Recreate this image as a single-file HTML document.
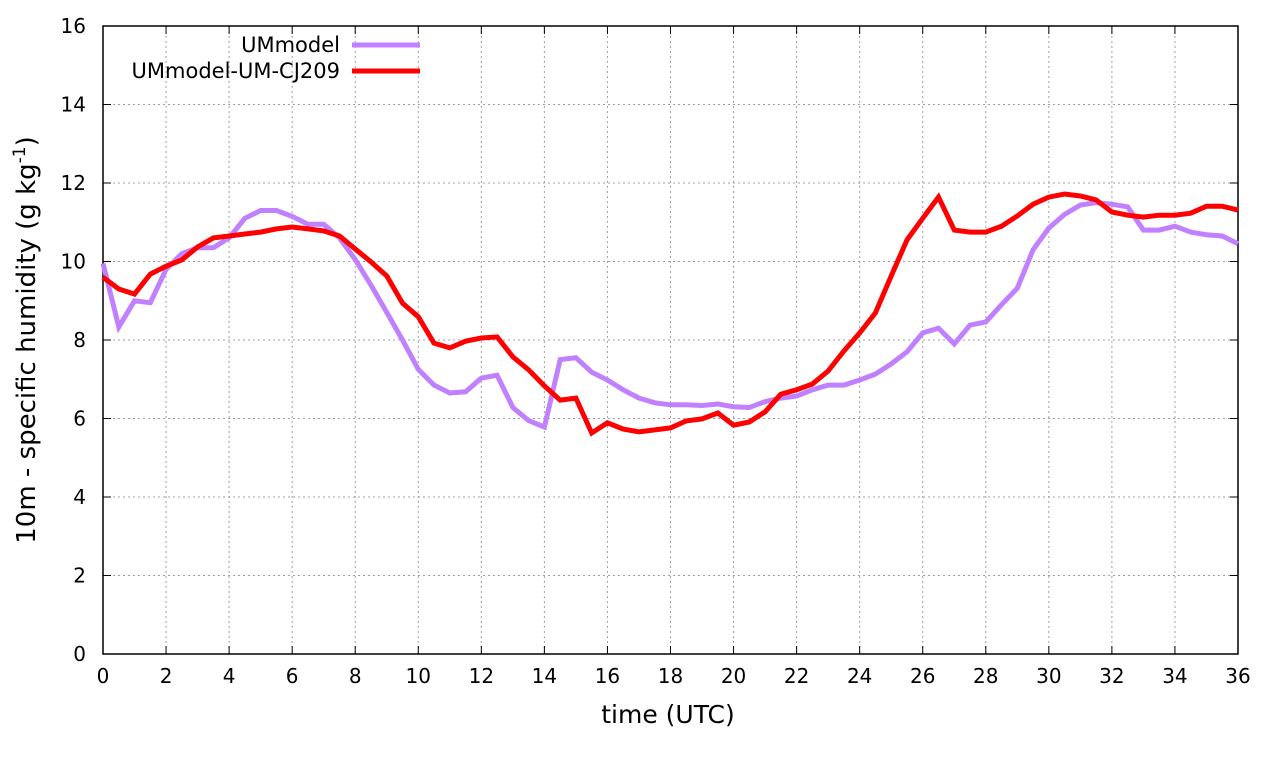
<!DOCTYPE html>
<html><head><meta charset="utf-8"><style>
html,body{margin:0;padding:0;background:#fff}
svg{display:block;font-family:"DejaVu Sans","Liberation Sans",sans-serif}
</style></head><body>
<svg id="chart" width="1280" height="760" xmlns="http://www.w3.org/2000/svg">
<g id="grid"></g>
<g id="axes"></g>
<g id="series"></g>
<text x="668" y="723" font-size="25" text-anchor="middle">time (UTC)</text>
<text transform="translate(35,340) rotate(-90)" font-size="26" text-anchor="middle">10m - specific humidity (g kg<tspan dy="-10" font-size="17">-1</tspan><tspan dy="10">)</tspan></text>
<g>
<text x="340" y="52" font-size="21" text-anchor="end">UMmodel</text>
<line x1="352" y1="45" x2="420" y2="45" stroke="#c080ff" stroke-width="5"/>
<text x="340" y="78" font-size="21" text-anchor="end">UMmodel-UM-CJ209</text>
<line x1="352" y1="71" x2="420" y2="71" stroke="#ff0000" stroke-width="5"/>
</g>
</svg>
<script>
const xTicks=[0,2,4,6,8,10,12,14,16,18,20,22,24,26,28,30,32,34,36];
const yTicks=[0,2,4,6,8,10,12,14,16];
const umModel=[9.95,8.33,9.0,8.95,9.8,10.2,10.35,10.35,10.6,11.1,11.3,11.3,11.15,10.95,10.95,10.6,10.05,9.4,8.7,8.0,7.25,6.85,6.65,6.68,7.03,7.1,6.28,5.95,5.78,7.5,7.55,7.18,6.98,6.73,6.52,6.4,6.35,6.35,6.33,6.37,6.3,6.28,6.43,6.52,6.57,6.73,6.85,6.85,6.98,7.13,7.39,7.7,8.18,8.3,7.9,8.38,8.46,8.9,9.32,10.3,10.85,11.2,11.44,11.5,11.46,11.39,10.8,10.8,10.9,10.75,10.68,10.65,10.45];
const umCJ209=[9.6,9.3,9.17,9.68,9.88,10.04,10.37,10.6,10.65,10.7,10.75,10.83,10.88,10.83,10.78,10.65,10.32,9.99,9.63,8.94,8.59,7.92,7.8,7.97,8.05,8.08,7.57,7.24,6.83,6.47,6.52,5.63,5.89,5.73,5.66,5.71,5.76,5.94,5.99,6.14,5.83,5.91,6.17,6.62,6.73,6.88,7.21,7.72,8.18,8.69,9.63,10.55,11.1,11.64,10.8,10.75,10.75,10.9,11.16,11.46,11.64,11.72,11.67,11.57,11.26,11.18,11.13,11.18,11.18,11.23,11.41,11.41,11.31];
const timeStep=0.5;
const X0=103,X1=1238,Y0=654,Y1=26;
const xs=v=>X0+(v-0)/(36-0)*(X1-X0);
const ys=v=>Y0-(v-0)/(16-0)*(Y0-Y1);
const NS="http://www.w3.org/2000/svg";
function mk(t,a,p){const e=document.createElementNS(NS,t);for(const k in a)e.setAttribute(k,a[k]);p.appendChild(e);return e;}
const grid=document.getElementById('grid'),axes=document.getElementById('axes'),series=document.getElementById('series');
xTicks.forEach(t=>{
  const x=xs(t);
  if(t>0&&t<36){const g=mk('line',{x1:x,y1:Y1,x2:x,y2:Y0,stroke:'#a0a0a0','stroke-width':1,'stroke-dasharray':'2,3'},grid);
  
  }
  const tk=mk('path',{d:`M${x},${Y0}v-8M${x},${Y1}v8`,stroke:'#000','stroke-width':1},axes);
  
  
  const l=mk('text',{x:x,y:Y0+29,'font-size':20,'text-anchor':'middle'},axes);l.textContent=t;
  
  
});
yTicks.forEach(t=>{
  const y=ys(t);
  if(t>0&&t<16){const g=mk('line',{x1:X0,y1:y,x2:X1,y2:y,stroke:'#a0a0a0','stroke-width':1,'stroke-dasharray':'2,3'},grid);
  
  }
  const tk=mk('path',{d:`M${X0},${y}h8M${X1},${y}h-8`,stroke:'#000','stroke-width':1},axes);
  
  
  const l=mk('text',{x:X0-17,y:y+7,'font-size':20,'text-anchor':'end'},axes);l.textContent=t;
  
  
});
const frame=mk('rect',{x:X0,y:Y1,width:X1-X0,height:Y0-Y1,fill:'none',stroke:'#000','stroke-width':1.5},axes);


function line(arr,color,name){
  const d=arr.map((v,i)=>(i?'L':'M')+xs(i*timeStep).toFixed(1)+','+ys(v).toFixed(1)).join('');
  const p=mk('path',{d:d,fill:'none',stroke:color,'stroke-width':5,'stroke-linejoin':'miter'},series);
  
  
}
line(umModel,'#c080ff','line-ummodel');
line(umCJ209,'#ff0000','line-ummodel-um-cj209');
</script>
</body></html>
